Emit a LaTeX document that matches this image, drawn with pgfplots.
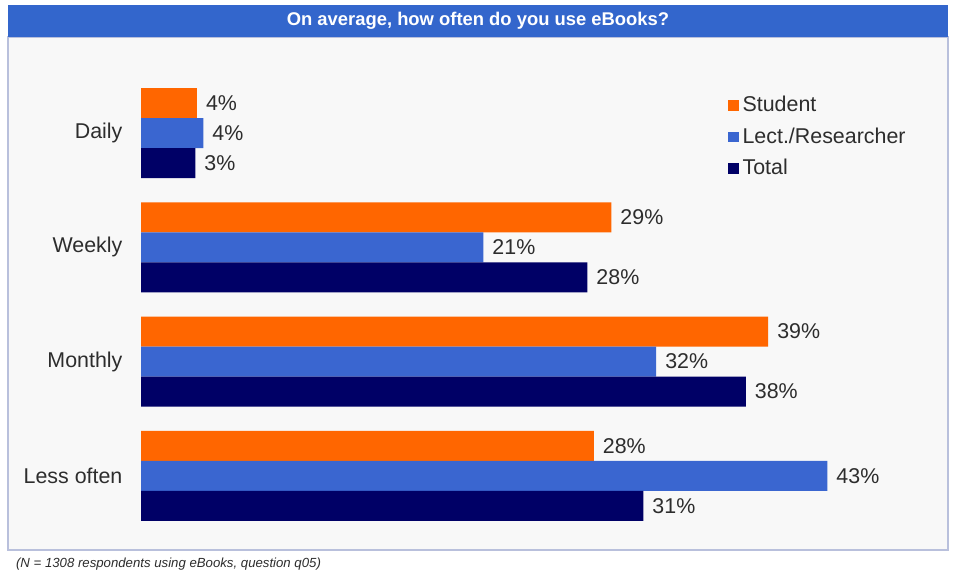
\documentclass[border=0pt]{standalone}
\usepackage{pgfplots}
\pgfplotsset{compat=1.18}
\usepackage{fontspec}
\setmainfont{Liberation Sans}
\definecolor{cStudent}{RGB}{255,102,0}
\definecolor{cLect}{RGB}{58,102,208}
\definecolor{cTotal}{RGB}{0,0,102}
\definecolor{cTitle}{RGB}{51,102,204}
\definecolor{cFrame}{RGB}{185,192,220}
\definecolor{cBg}{RGB}{248,248,248}
\definecolor{cText}{RGB}{45,45,45}
\begin{document}
\begin{tikzpicture}[x=0.5pt,y=0.5pt]
\useasboundingbox (0,0) rectangle (954,573);
\fill[white] (0,0) rectangle (954,573);
\filldraw[fill=cBg,draw=cFrame,line width=1pt] (8,23) rectangle (948,536);
\fill[cTitle] (8,536) rectangle (948,568);
\node[text=white,font=\fontsize{9.2}{11}\selectfont\bfseries] at (478,552) {On average, how often do you use eBooks?};
\node[anchor=west,text=cText,font=\fontsize{6.6}{8}\selectfont\itshape] at (9,9) {(N = 1308 respondents using eBooks, question q05)};
\begin{axis}[
  at={(70.5pt,20pt)}, anchor=south west,
  scale only axis, width=400pt, height=228.5pt,
  xbar, bar width=15pt,
  xmin=0, xmax=50, ymin=-0.5, ymax=3.5, y dir=reverse,
  axis line style={draw=none}, tick style={draw=none},
  xtick=\empty,
  ytick={0,1,2,3},
  yticklabels={Daily,Weekly,Monthly,Less often},
  yticklabel style={font=\fontsize{10.7}{12}\selectfont, text=cText, xshift=-1.5pt},
  /pgf/number format/assume math mode=true,
  nodes near coords={\pgfmathprintnumber[fixed,precision=0,assume math mode=true]{\pgfplotspointmeta}\%},
  nodes near coords style={font=\fontsize{10.7}{12}\selectfont, text=cText, anchor=west, xshift=1pt},
  legend style={at={(0.726,0.974)}, anchor=north west, draw=none, fill=none,
    font=\fontsize{10.7}{12}\selectfont, text=cText, row sep=2.5pt,
    legend cell align=left},
  legend image code/.code={\fill[#1] (0pt,-2.6pt) rectangle (5.2pt,2.6pt);},
]
\addplot[fill=cStudent, draw=none, bar shift=15pt] coordinates {(3.5,0) (29.4,1) (39.2,2) (28.3,3)};
\addplot[fill=cLect, draw=none, bar shift=0pt] coordinates {(3.9,0) (21.4,1) (32.2,2) (42.9,3)};
\addplot[fill=cTotal, draw=none, bar shift=-15pt] coordinates {(3.4,0) (27.9,1) (37.8,2) (31.4,3)};
\legend{Student,Lect./Researcher,Total}
\end{axis}
\end{tikzpicture}
\end{document}
